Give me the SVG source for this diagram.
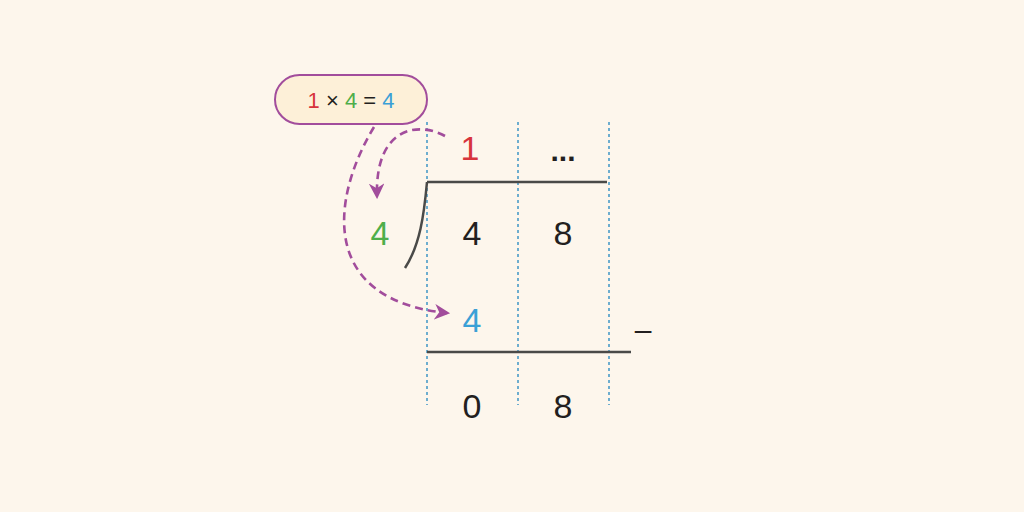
<svg xmlns="http://www.w3.org/2000/svg" width="1024" height="512" viewBox="0 0 1024 512">
<defs>
<style>
.t{font-family:"Liberation Sans",Arial,sans-serif;text-anchor:middle;}
.d{font-size:34px;fill:#231f20;}
.grid{stroke:#4a9cc8;stroke-width:1.6;stroke-dasharray:3 3;}
.rule{stroke:#4a4a48;stroke-width:2.5;fill:none;}
.arr{stroke:#a24d9c;stroke-width:2.6;fill:none;stroke-dasharray:8 5;}
</style>
<marker id="ah" viewBox="0 0 10 10" refX="8" refY="5" markerWidth="6" markerHeight="6" orient="auto" markerUnits="strokeWidth">
<path d="M0,0 L10,5 L0,10 L3,5 z" fill="#a24d9c"/>
</marker>
</defs>
<rect width="1024" height="512" fill="#fdf6ec"/>
<g id="grid">
<line class="grid" x1="427" y1="122" x2="427" y2="405"/>
<line class="grid" x1="518" y1="122" x2="518" y2="405"/>
<line class="grid" x1="609" y1="122" x2="609" y2="405"/>
</g>
<g id="rules">
<line class="rule" x1="427" y1="182" x2="607" y2="182"/>
<path class="rule" d="M427,182 C424,215 420,245 405,268" stroke-width="2"/>
<line class="rule" x1="427" y1="352" x2="631" y2="352"/>
</g>
<g id="pill">
<rect x="275" y="75" width="152" height="49" rx="24.5" fill="#fdf0d8" stroke="#a24d9c" stroke-width="2"/>
<text class="t" x="351" y="108" font-size="22"><tspan fill="#d7343c">1</tspan><tspan fill="#231f20"> × </tspan><tspan fill="#4fae4a">4</tspan><tspan fill="#231f20"> = </tspan><tspan fill="#3aa0d6">4</tspan></text>
</g>
<g id="digits">
<text class="t d" x="470" y="160" style="fill:#d7343c">1</text>
<text class="t" x="563" y="161" font-size="30" font-weight="bold" fill="#231f20">...</text>
<text class="t d" x="380" y="245" style="fill:#4fae4a">4</text>
<text class="t d" x="472" y="245">4</text>
<text class="t d" x="563" y="245">8</text>
<text class="t d" x="472" y="332" style="fill:#3aa0d6">4</text>
<text class="t" x="643" y="340" font-size="30" fill="#231f20">–</text>
<text class="t d" x="472" y="418">0</text>
<text class="t d" x="563" y="418">8</text>
</g>
<g id="connectors">
<path class="arr" d="M445,136 C420,122 375,125 377,196" marker-end="url(#ah)"/>
<path class="arr" d="M374,127 C330,200 320,300 447,313" marker-end="url(#ah)"/>
</g>
</svg>
